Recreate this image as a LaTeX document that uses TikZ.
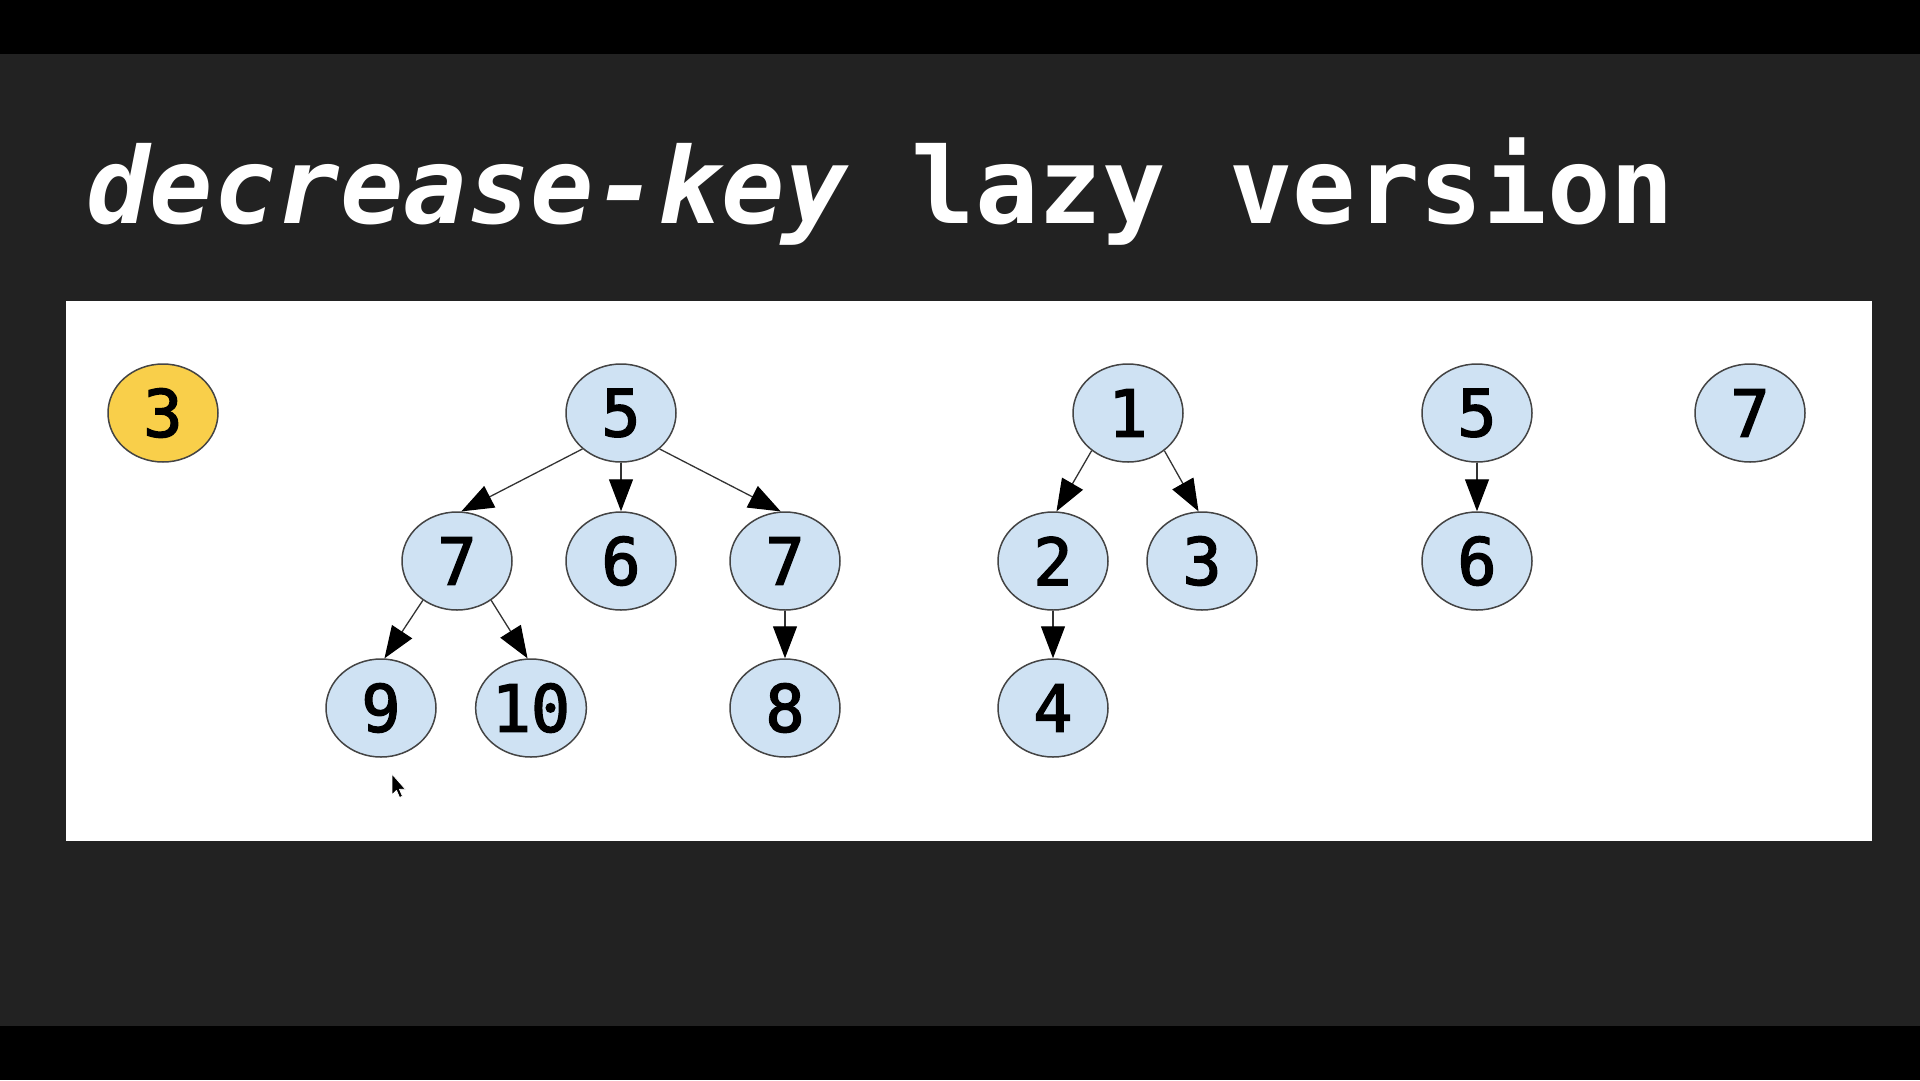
\documentclass[tikz,border=0pt]{standalone}
\usepackage{fontspec}
\usetikzlibrary{shapes.geometric,arrows.meta}
\newfontfamily\titlefont{DejaVu Sans Mono}
\newfontfamily\digitfont{DejaVu Sans Mono}[FakeBold=2.4]
\definecolor{slidebg}{HTML}{222222}
\definecolor{nodeblue}{HTML}{CFE2F3}
\definecolor{nodeyellow}{HTML}{F9CF4A}
\definecolor{edgegray}{HTML}{333333}
\definecolor{bordergray}{HTML}{444444}
\tikzset{
  heapnode/.style={ellipse, draw=bordergray, line width=1.5pt, fill=nodeblue,
    minimum width=110pt, minimum height=98pt, inner sep=0pt,
    font=\digitfont\fontsize{65}{66}\selectfont, text=black},
  hotnode/.style={heapnode, fill=nodeyellow},
  heapedge/.style={draw=edgegray, line width=1.3pt,
    -{Triangle[length=32pt,width=24pt,color=black]}}
}
\begin{document}
\begin{tikzpicture}[x=1pt,y=-1pt]
\useasboundingbox (0,0) rectangle (1920,1080);
\fill[black] (0,0) rectangle (1920,1080);
\fill[slidebg] (0,54) rectangle (1920,1026);
\fill[white] (66,301) rectangle (1872,841);
\node[anchor=base west, inner sep=0pt, text=white,
  font=\titlefont\bfseries\fontsize{105.5}{110}\selectfont] (title) at (86,223)
  {{\itshape decrease-key} lazy version};
% min pointer
\node[hotnode] (m3) at (163,413) {3};
% tree 1
\node[heapnode] (a5) at (621,413) {5};
\node[heapnode] (a7l) at (457,561) {7};
\node[heapnode] (a6) at (621,561) {6};
\node[heapnode] (a7r) at (785,561) {7};
\node[heapnode] (a9) at (381,708) {9};
\node[heapnode] (a10) at (531,708) {10};
\node[heapnode] (a8) at (785,708) {8};
% tree 2
\node[heapnode] (b1) at (1128,413) {1};
\node[heapnode] (b2) at (1053,561) {2};
\node[heapnode] (b3) at (1202,561) {3};
\node[heapnode] (b4) at (1053,708) {4};
% tree 3
\node[heapnode] (c5) at (1477,413) {5};
\node[heapnode] (c6) at (1477,561) {6};
% tree 4
\node[heapnode] (d7) at (1750,413) {7};
% edges
\draw[heapedge] (a5.223) -- (a7l.85);
\draw[heapedge] (a5) -- (a6);
\draw[heapedge] (a5.317) -- (a7r.95);
\draw[heapedge] (a7l.229) -- (a9.86);
\draw[heapedge] (a7l.311) -- (a10.94);
\draw[heapedge] (a7r) -- (a8);
\draw[heapedge] (b1.226) -- (b2.86);
\draw[heapedge] (b1.314) -- (b3.94);
\draw[heapedge] (b2) -- (b4);
\draw[heapedge] (c5) -- (c6);
% mouse cursor
\filldraw[fill=black, draw=white, line width=0.8pt, line join=round]
  (392,774) -- (392,795) -- (396.5,790.5) -- (399.5,797.5) -- (402.5,796.2)
  -- (399.5,789.3) -- (405.5,789.3) -- cycle;
\end{tikzpicture}
\end{document}
